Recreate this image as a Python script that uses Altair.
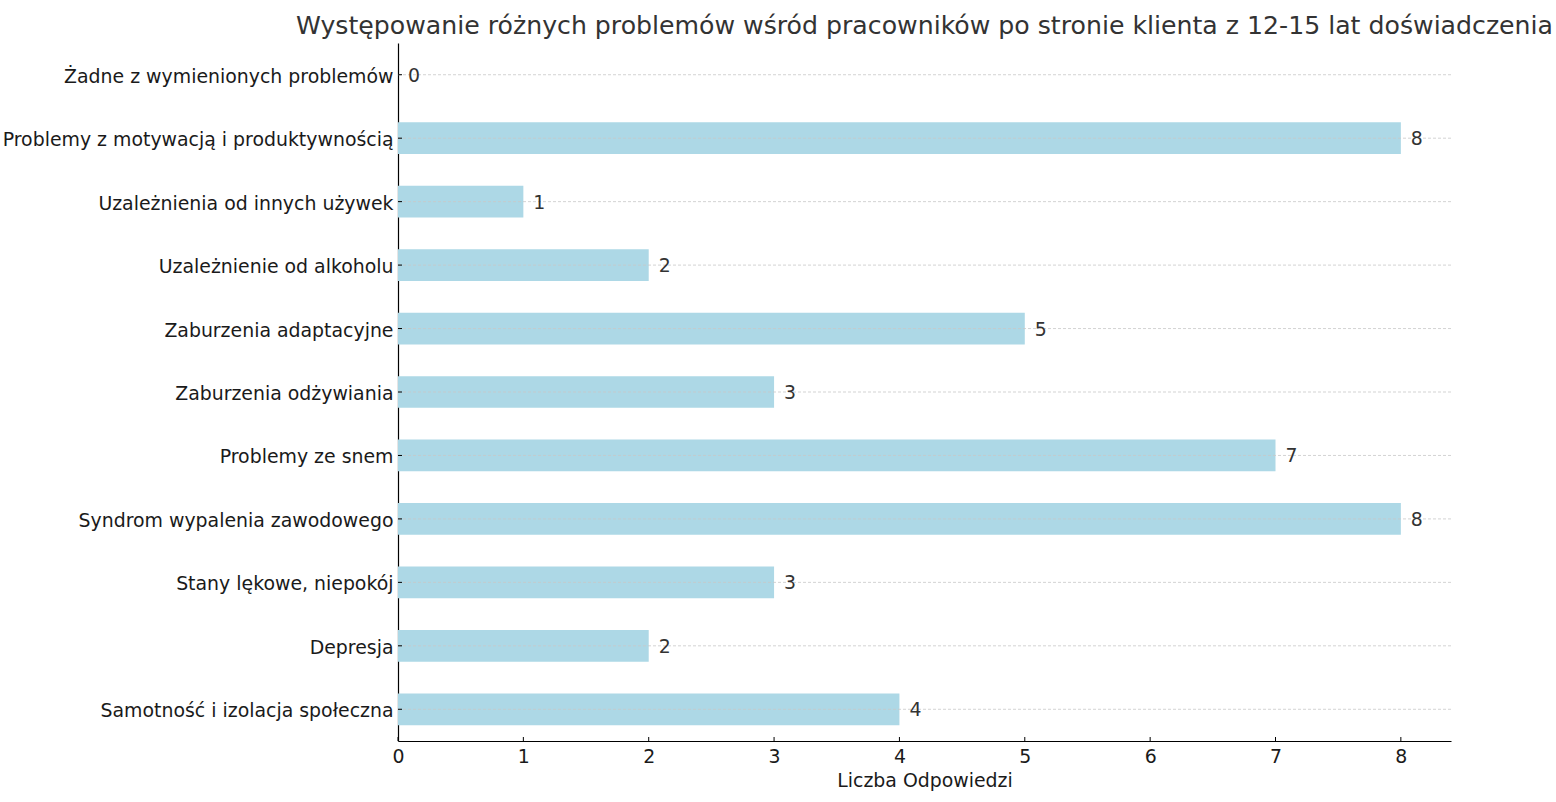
import altair as alt
import pandas as pd

categories = [
    "Żadne z wymienionych problemów",
    "Problemy z motywacją i produktywnością",
    "Uzależnienia od innych używek",
    "Uzależnienie od alkoholu",
    "Zaburzenia adaptacyjne",
    "Zaburzenia odżywiania",
    "Problemy ze snem",
    "Syndrom wypalenia zawodowego\u00a0",
    "Stany lękowe, niepokój",
    "Depresja",
    "Samotność i izolacja społeczna",
]
values = [0, 8, 1, 2, 5, 3, 7, 8, 3, 2, 4]
x_ticks = [0, 1, 2, 3, 4, 5, 6, 7, 8]

df = pd.DataFrame({"cat": categories, "val": values})
ticks_df = pd.DataFrame({"t": x_ticks})

FONT = "DejaVu Sans"
FS = 18.9
W, H = 1053, 698

x_scale = alt.Scale(domain=[0, 8.4], nice=False, zero=True)
y_scale = alt.Scale(paddingInner=0.5, paddingOuter=0.25)

bars = alt.Chart(df).mark_bar(color="#add8e6").encode(
    x=alt.X(
        "val:Q",
        scale=x_scale,
        axis=alt.Axis(
            values=x_ticks,
            title="Liczba Odpowiedzi",
            titleFont=FONT,
            titleFontSize=FS,
            titleFontWeight="normal",
            titleColor="#1a1a1a",
            titlePadding=6,
            labelFont=FONT,
            labelFontSize=FS,
            labelColor="#1a1a1a",
            labelPadding=6,
            labelFlush=False,
            tickSize=0,
            domainColor="#000000",
            domainWidth=1.2,
            grid=False,
            format="d",
        ),
    ),
    y=alt.Y(
        "cat:N",
        sort=categories,
        scale=y_scale,
        axis=alt.Axis(
            title=None,
            labelFont=FONT,
            labelFontSize=FS,
            labelColor="#1a1a1a",
            labelPadding=5,
            labelOffset=2,
            tickSize=0,
            domainColor="#000000",
            domainWidth=1.2,
            grid=False,
            labelLimit=600,
        ),
    ),
)

grid = alt.Chart(df).mark_rule(
    color="#c8c8c8", strokeDash=[3, 2], strokeWidth=0.8
).encode(
    y=alt.Y("cat:N", sort=categories, scale=y_scale),
    x=alt.value(0),
    x2=alt.value(W),
)

yticks = alt.Chart(df).mark_rule(color="#000000", strokeWidth=1).encode(
    y=alt.Y("cat:N", sort=categories, scale=y_scale),
    x=alt.value(0),
    x2=alt.value(4),
)

xticks = alt.Chart(ticks_df).mark_rule(color="#000000", strokeWidth=1).encode(
    x=alt.X("t:Q", scale=x_scale),
    y=alt.value(H - 4),
    y2=alt.value(H),
)

labels = alt.Chart(df).mark_text(
    align="left", baseline="middle", dx=10, dy=1, font=FONT, fontSize=FS, color="#333333"
).encode(
    x=alt.X("val:Q", scale=x_scale),
    y=alt.Y("cat:N", sort=categories, scale=y_scale),
    text=alt.Text("val:Q", format="d"),
)

chart = alt.layer(bars, grid, yticks, xticks, labels).properties(
    width=W,
    height=H,
    background="white",
    title=alt.TitleParams(
        "Występowanie różnych problemów wśród pracowników po stronie klienta z 12-15 lat doświadczenia",
        font=FONT,
        fontSize=25.2,
        fontWeight="normal",
        color="#333333",
        anchor="middle",
        offset=4,
    ),
    autosize=alt.AutoSizeParams(type="none"),
    padding={"left": 398, "top": 43, "right": 105, "bottom": 61},
).configure_view(stroke=None)

chart.save("out.html", embed_options={"renderer": "svg", "actions": False})
